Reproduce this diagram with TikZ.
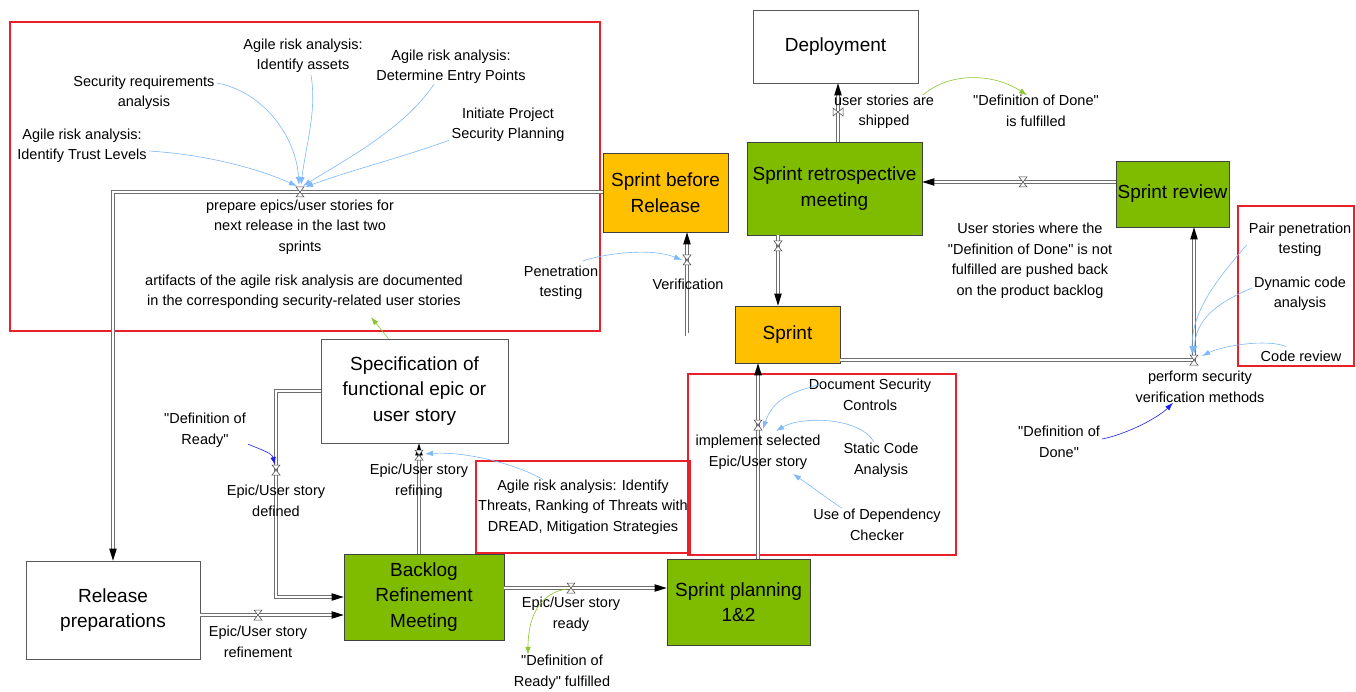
\documentclass[tikz,border=0pt]{standalone}
\usepackage{fontspec}
\setmainfont{Liberation Sans}
\newfontfamily\lsans{Liberation Sans}
\usetikzlibrary{arrows.meta}
\definecolor{boxgreen}{RGB}{127,188,0}
\definecolor{boxorange}{RGB}{255,192,0}
\definecolor{infoblue}{RGB}{125,185,250}
\definecolor{linegreen}{RGB}{140,198,50}
\definecolor{darkblue}{RGB}{30,30,240}
\definecolor{frred}{RGB}{232,32,42}
\definecolor{pipegray}{RGB}{110,110,110}
\begin{document}
\begin{tikzpicture}[x=1pt,y=-1pt,
  every node/.style={inner sep=2pt},
  lbl/.style={align=center, font=\lsans\fontsize{14.5}{20.5}\selectfont},
  big/.style={align=center, font=\lsans\fontsize{19}{25.5}\selectfont, line width=0.6pt, inner sep=1pt},
  wbox/.style={big, fill=white, draw=gray!70!black},
  gbox/.style={big, fill=boxgreen, draw=gray!50!black},
  obox/.style={big, fill=boxorange, draw=gray!50!black},
  pipe/.style={draw=pipegray, line width=0.55pt, double=white, double distance=2.4pt},
  pipea/.style={pipe, shorten >=7pt},
  info/.style={draw=infoblue, line width=0.6pt, -{Latex[length=8pt,width=5.5pt]}},
  gline/.style={draw=linegreen, line width=0.6pt, -{Latex[length=8pt,width=5.5pt]}},
  bline/.style={draw=darkblue, line width=0.6pt, -{Latex[length=8pt,width=5.5pt]}},
  frame/.style={draw=frred, line width=2.6pt},
  hg/.pic={\draw[draw=black!75, fill=white, line width=0.5pt] (-4,-5)--(4,-5)--(-4,5)--(4,5)--cycle;},
  bt/.pic={\draw[draw=black!75, fill=white, line width=0.5pt] (-5,-4)--(-5,4)--(5,-4)--(5,4)--cycle;},
  tip/.pic={\fill[black] (0,0)--(-12,-3.8)--(-12,3.8)--cycle;}
]
\useasboundingbox[fill=white] (0,0) rectangle (1356,692);

% red frames
\draw[frame] (10,22) rectangle (600,331);
\draw[frame] (476,461) rectangle (690,553);
\draw[frame] (688,374) rectangle (956,555);
\draw[frame] (1238,206) rectangle (1354,366);

% boxes
\node[wbox, minimum width=165, minimum height=73] (dep) at (835.5,46.5) {Deployment};
\node[obox, minimum width=125, minimum height=79] (sbr) at (665.5,192.5) {Sprint before\\Release};
\node[gbox, minimum width=175, minimum height=93] (srm) at (834.5,188.5) {Sprint retrospective\\meeting};
\node[gbox, minimum width=113, minimum height=66] (srev) at (1172.5,194) {Sprint review};
\node[obox, minimum width=105, minimum height=57] (spr) at (787.5,334.5) {Sprint};
\node[wbox, minimum width=187, minimum height=104] (spec) at (414.5,391) {Specification of\\functional epic or\\user story};
\node[wbox, minimum width=174, minimum height=98] (rel) at (113,610) {Release\\preparations};
\node[gbox, minimum width=160, minimum height=86] (brm) at (424,597) {Backlog\\Refinement\\Meeting};
\node[gbox, minimum width=143, minimum height=86] (spl) at (738.5,602) {Sprint planning\\1\&2};

% valve positions
\coordinate (v1) at (838,112);
\coordinate (v2) at (1023,182);
\coordinate (v3) at (778,246);
\coordinate (v4) at (687,260);
\coordinate (v5) at (1194,360);
\coordinate (v6) at (300,192);
\coordinate (v7) at (258,615);
\coordinate (v8) at (276,470);
\coordinate (v9) at (419,455);
\coordinate (v10) at (571,588);
\coordinate (v11) at (758,425);

% flows (pipes)
\draw[pipea] (srm.north -| v1) -- (dep.south -| v1);
\pic[rotate=90] at (dep.south -| v1) {tip};
\draw[pipea] (srev.west |- v2) -- (srm.east |- v2);
\pic[rotate=180] at (srm.east |- v2) {tip};
\draw[pipea] (srm.south -| v3) -- (spr.north -| v3);
\pic[rotate=-90] at (spr.north -| v3) {tip};
\draw[pipea] (spr.west) -- (spr.west -| v4) -- (sbr.south -| v4);
\pic[rotate=90] at (sbr.south -| v4) {tip};
\draw[pipea] (spr.east |- v5) -- (v5) -- (srev.south -| v5);
\pic[rotate=90] at (srev.south -| v5) {tip};
\draw[pipea] (sbr.west |- v6) -- (rel.north |- v6) -- (rel.north);
\pic[rotate=-90] at (rel.north) {tip};
\draw[pipea] (rel.east |- v7) -- (brm.west |- v7);
\pic at (brm.west |- v7) {tip};
\draw[pipea] (spec.west) -- (spec.west -| v8) -- (brm.west -| v8) -- (brm.west);
\pic at (brm.west) {tip};
\draw[pipea] (brm.north -| v9) -- (spec.south -| v9);
\pic[rotate=90] at (spec.south -| v9) {tip};
\draw[pipea] (brm.east |- v10) -- (spl.west |- v10);
\pic at (spl.west |- v10) {tip};
\draw[pipea] (spl.north -| v11) -- (spr.south -| v11);
\pic[rotate=90] at (spr.south -| v11) {tip};

% valves
\pic at (v1) {bt};
\foreach \v in {v2,v3,v4,v5,v6,v7,v8,v9,v10,v11} {\pic at (\v) {hg};}

% labels
\node[lbl] (sra) at (144,93) {Security requirements\\analysis};
\node[lbl] (ria) at (303,56) {Agile risk analysis:\\Identify assets};
\node[lbl] (rep) at (451,67) {Agile risk analysis:\\Determine Entry Points};
\node[lbl] (ipsp) at (508,125) {Initiate Project\\Security Planning};
\node[lbl] (rtl) at (82,146) {Agile risk analysis:\\Identify Trust Levels};
\node[lbl] (prepl) at (300,227) {prepare epics/user stories for\\next release in the last two\\sprints};
\node[lbl] (art) at (304,292) {artifacts of the agile risk analysis are documented\\in the corresponding security-related user stories};
\node[lbl] (pen) at (561,283) {Penetration\\testing};
\node[lbl] (verif) at (688,284) {Verification};
\node[lbl] (shipped) at (884,112) {user stories are\\shipped};
\node[lbl] (dodf) at (1036,111) {"Definition of Done"\\is fulfilled};
\node[lbl] (pushed) at (1030,261) {User stories where the\\"Definition of Done" is not\\fulfilled are pushed back\\on the product backlog};
\node[lbl] (ppt) at (1300,240) {Pair penetration\\testing};
\node[lbl] (dca) at (1300,294) {Dynamic code\\analysis};
\node[lbl] (cr) at (1301,356) {Code review};
\node[lbl] (psvm) at (1200,387) {perform security\\verification methods};
\node[lbl] (dod) at (1059,442) {"Definition of\\Done"};
\node[lbl] (dsc) at (870,395) {Document Security\\Controls};
\node[lbl] (sca) at (881,460) {Static Code\\Analysis};
\node[lbl] (udc) at (877,525) {Use of Dependency\\Checker};
\node[lbl] (impl) at (758,452) {implement selected\\Epic/User story};
\node[lbl] (rath) at (583,507) {Agile risk analysis: Identify\\Threats, Ranking of Threats with\\DREAD, Mitigation Strategies};
\node[lbl] (dor) at (205,430) {"Definition of\\Ready"};
\node[lbl] (defd) at (276,501) {Epic/User story\\defined};
\node[lbl] (refg) at (419,481) {Epic/User story\\refining};
\node[lbl] (refm) at (258,642) {Epic/User story\\refinement};
\node[lbl] (ready) at (571,614) {Epic/User story\\ready};
\node[lbl] (dorf) at (562,672) {"Definition of\\Ready" fulfilled};

% information links
\draw[info] ([shift={(0,5)}]rtl.east) .. controls +(50,3) and +(-45,-20) .. ([shift={(-3,-6)}]v6);
\draw[info] ([shift={(0,-10)}]sra.east) .. controls +(45,8) and +(-3,-50) .. ([shift={(-1,-7)}]v6);
\draw[info] ([shift={(8,0)}]ria.south) .. controls +(6,35) and +(5,-40) .. ([shift={(1,-7)}]v6);
\draw[info] ([shift={(-17,-2)}]rep.south) .. controls +(-30,45) and +(40,-25) .. ([shift={(3,-6)}]v6);
\draw[info] ([shift={(0,-4)}]ipsp.south west) .. controls +(-50,18) and +(50,-18) .. ([shift={(5,-5)}]v6);
\draw[info] ([shift={(22,-3)}]pen.north) .. controls +(25,-8) and +(-30,-12) .. ([shift={(-5,0)}]v4);
\draw[info] ([shift={(-40,2)}]rath.north) .. controls +(-25,-15) and +(40,-3) .. ([shift={(6,-1)}]v9);
\draw[info] ([shift={(-49,7)}]dsc.north) .. controls +(-30,8) and +(10,-30) .. ([shift={(5,4)}]v11);
\draw[info] ([shift={(-7,1)}]sca.north) .. controls +(-15,-25) and +(25,-15) .. ([shift={(18,6)}]v11);
\draw[info] ([shift={(-35,1)}]udc.north) .. controls +(-15,-10) and +(15,10) .. ([shift={(35,49)}]v11);
\draw[info] ([shift={(0,5)}]ppt.west) .. controls +(-35,40) and +(0,-40) .. ([shift={(-2,-6)}]v5);
\draw[info] ([shift={(0,-6)}]dca.west) .. controls +(-35,15) and +(2,-35) .. ([shift={(0,-6)}]v5);
\draw[info] ([shift={(-15,-2)}]cr.north) .. controls +(-20,-8) and +(20,-10) .. ([shift={(8,-4)}]v5);
\draw[gline] ([shift={(-13,2)}]shipped.north east) .. controls +(30,-25) and +(-30,-20) .. ([shift={(-9,2)}]dodf.north);
\draw[gline] ([shift={(-26,0)}]spec.north) -- ([shift={(67,6)}]art.south);
\draw[gline] ([shift={(-4,1)}]v10) .. controls +(-35,5) and +(0,-25) .. ([shift={(-34,2)}]dorf.north);
\draw[bline] ([shift={(0,-5)}]dor.south east) .. controls +(12,5) and +(-3,-12) .. ([shift={(-1,-5)}]v8);
\draw[bline] ([shift={(0,-3)}]dod.east) .. controls +(25,-5) and +(-15,15) .. ([shift={(-27,-2)}]psvm.south);
\end{tikzpicture}
\end{document}
